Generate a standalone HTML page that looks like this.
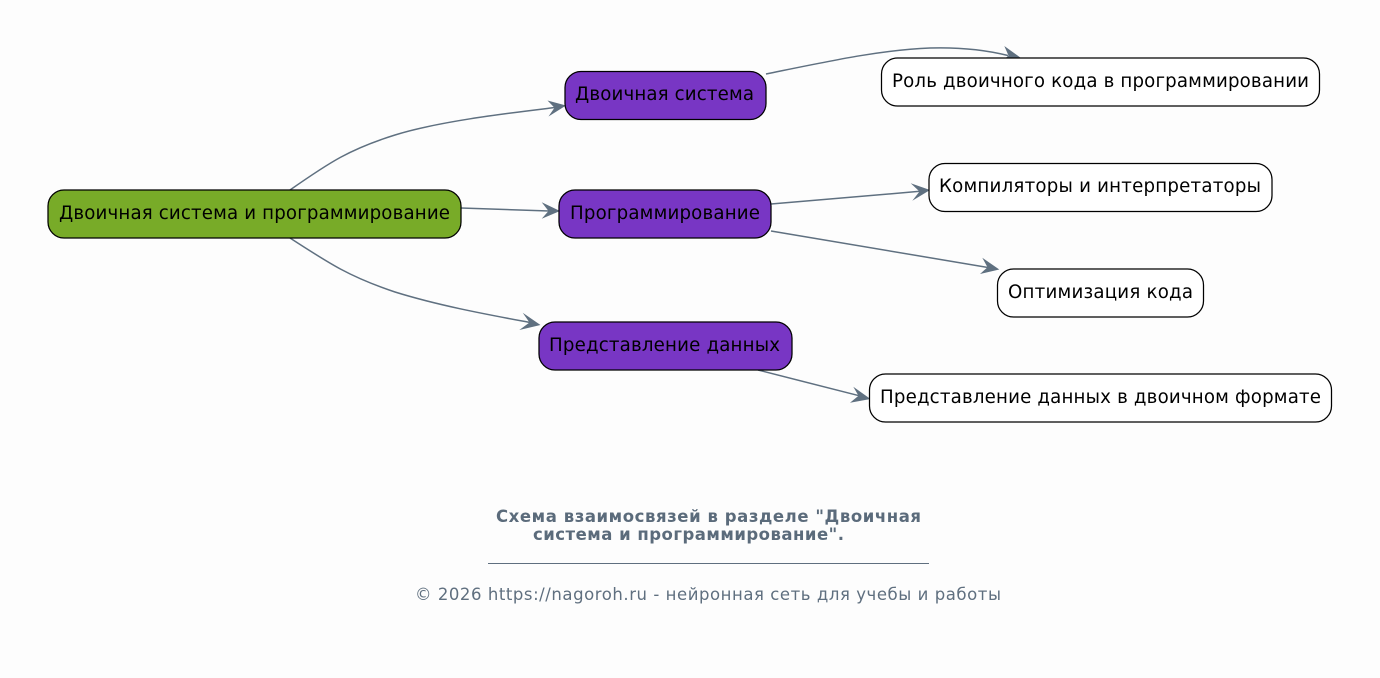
<!DOCTYPE html>
<html><head><meta charset="utf-8"><style>
html,body{margin:0;padding:0;background:#fdfdfd;width:1380px;height:678px;overflow:hidden}
svg{display:block}
text{font-family:"DejaVu Sans",sans-serif}
.n{font-size:18.2px;fill:#000}
.t{font-size:16.5px;font-weight:700;fill:#5b6b7b}
.f{font-size:16.5px;fill:#5f6f7f}
.e{fill:none;stroke:#5f7080;stroke-width:1.5}
.a{fill:#5f7080}
.r{stroke:#000;stroke-width:1.25}
</style></head><body>
<svg width="1380" height="678" viewBox="0 0 1380 678" xmlns="http://www.w3.org/2000/svg">
<rect width="1380" height="678" fill="#fdfdfd"/>
<path class="e" d="M290 190C330 162 350 149 395 135C440 121 510 113 555 107.500"/>
<path class="a" d="M566 105.500L547.500 100.500L554.500 107.800L548.500 116.500Z"/>
<path class="e" d="M461 208L549 211"/>
<path class="a" d="M560 211L541.700 202.300L548.500 211L541.700 218.700Z"/>
<path class="e" d="M290 238C330 264 350 277 395 292C440 306 490 315 530 322.500"/>
<path class="a" d="M540.500 325L522.700 312.700L529.500 322.500L519.300 330Z"/>
<path class="e" d="M766 74C830 61 880 50 930 48C965 47 990 51 1008 55.500"/>
<path class="a" d="M1021 58L1004.300 46L1008.500 55.500L1000.700 62.300Z"/>
<path class="e" d="M771 204L920 191.300"/>
<path class="a" d="M930 190L910.700 183.300L919.500 191.500L912.300 200.700Z"/>
<path class="e" d="M771 231L988 267.500"/>
<path class="a" d="M999.300 269.500L982.300 257.700L987.500 267.300L980 274Z"/>
<path class="e" d="M758 370L859 395.700"/>
<path class="a" d="M870.500 399L853.300 386.700L858.500 395.700L850 402.700Z"/>
<rect class="r" x="48" y="190" width="413" height="48" rx="16" fill="#78ab28"/>
<text class="n" x="59" y="219" textLength="391">Двоичная система и программирование</text>
<rect class="r" x="565" y="71.500" width="201" height="48" rx="16" fill="#7836c4"/>
<text class="n" x="575" y="100" textLength="179">Двоичная система</text>
<rect class="r" x="559" y="190" width="212" height="48" rx="16" fill="#7836c4"/>
<text class="n" x="570" y="219" textLength="190">Программирование</text>
<rect class="r" x="539" y="322" width="253" height="48" rx="16" fill="#7836c4"/>
<text class="n" x="549" y="351" textLength="231">Представление данных</text>
<rect class="r" x="881.500" y="58" width="438" height="48" rx="16" fill="#fff"/>
<text class="n" x="892" y="87" textLength="417">Роль двоичного кода в программировании</text>
<rect class="r" x="929" y="163.500" width="343" height="48" rx="16" fill="#fff"/>
<text class="n" x="939" y="192" textLength="322">Компиляторы и интерпретаторы</text>
<rect class="r" x="997.500" y="269" width="206" height="48" rx="16" fill="#fff"/>
<text class="n" x="1008" y="298" textLength="185">Оптимизация кода</text>
<rect class="r" x="869.500" y="374" width="462" height="48" rx="16" fill="#fff"/>
<text class="n" x="880" y="403" textLength="441">Представление данных в двоичном формате</text>
<text class="t" x="496" y="522" textLength="425">Схема взаимосвязей в разделе "Двоичная</text>
<text class="t" x="533" y="540" textLength="311">система и программирование".</text>
<rect x="488" y="563" width="441" height="1" fill="#5f6f7f"/>
<text class="f" x="415" y="600" textLength="586">© 2026 https://nagoroh.ru - нейронная сеть для учебы и работы</text>
</svg>
</body></html>
